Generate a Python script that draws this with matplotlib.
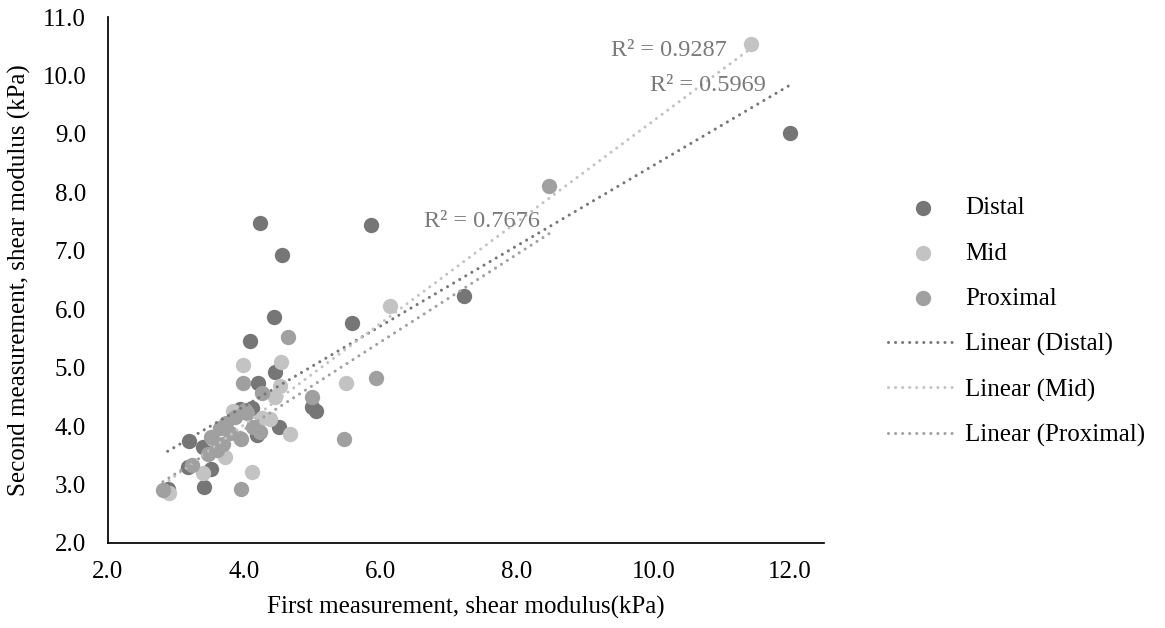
import matplotlib
matplotlib.use("Agg")
import matplotlib.pyplot as plt
import numpy as np

# ---- data ----
distal_x = [2.88, 3.18, 3.19, 3.40, 3.41, 3.52, 3.94, 4.09, 4.12, 4.19, 4.20,
            4.24, 4.44, 4.46, 4.51, 4.56, 5.00, 5.05, 5.58, 5.86, 7.22, 12.00]
distal_y = [2.93, 3.30, 3.75, 3.65, 2.95, 3.27, 4.30, 5.45, 4.31, 3.85, 4.74,
            7.47, 5.86, 4.93, 3.98, 6.93, 4.33, 4.25, 5.76, 7.44, 6.23, 9.01]

mid_x = [2.90, 3.40, 3.55, 3.65, 3.72, 3.84, 3.94, 3.98, 4.12, 4.26, 4.38,
         4.45, 4.52, 4.54, 4.68, 5.50, 6.14, 11.43]
mid_y = [2.86, 3.20, 3.78, 3.62, 3.47, 4.25, 3.79, 5.04, 3.22, 4.13, 4.12,
         4.49, 4.68, 5.09, 3.86, 4.74, 6.06, 10.54]

prox_x = [2.81, 3.23, 3.47, 3.52, 3.60, 3.64, 3.69, 3.74, 3.80, 3.86, 3.95,
          3.96, 3.98, 4.01, 4.04, 4.13, 4.23, 4.26, 4.65, 5.00, 5.47, 5.94, 8.47]
prox_y = [2.91, 3.33, 3.53, 3.82, 3.59, 3.96, 3.70, 4.05, 3.88, 4.16, 3.78,
          2.92, 4.74, 4.27, 4.22, 3.99, 3.90, 4.57, 5.53, 4.50, 3.78, 4.83, 8.10]

# linear trendlines (slope, intercept) and R^2 as printed on the chart
fit_slope = [0.687, 0.867, 0.750]
fit_intercept = [1.59, 0.555, 0.94]
r2_labels = ["R² = 0.5969", "R² = 0.9287", "R² = 0.7676"]

series_names = ["Distal", "Mid", "Proximal"]
colors = ["#767676", "#c3c3c3", "#a0a0a0"]

xticks = [2, 4, 6, 8, 10, 12]
yticks = [2, 3, 4, 5, 6, 7, 8, 9, 10, 11]

plt.rcParams["font.family"] = ["Liberation Serif", "DejaVu Serif"]

fig = plt.figure(figsize=(11.65, 6.28), dpi=100)
ax = fig.add_axes([0.0924, 0.1354, 0.6149, 0.8375])

xs_all = [distal_x, mid_x, prox_x]
ys_all = [distal_y, mid_y, prox_y]

for xs, ys, name, c in zip(xs_all, ys_all, series_names, colors):
    ax.scatter(xs, ys, s=122, color=c, linewidths=0, label=name, zorder=2)

dot = (0, (0.01, 2.3))
for xs, m, b, name, c in zip(xs_all, fit_slope, fit_intercept, series_names, colors):
    lx = np.array([min(xs), max(xs)])
    ax.plot(lx, m * lx + b, color=c, lw=2.2, linestyle=dot,
            dash_capstyle="round", label=f"Linear ({name})", zorder=3)

# R^2 labels near the end of each trendline
txt_kw = dict(fontsize=17.5, color="#7a7a7a", ha="right", va="center", zorder=4)
ax.text(11.65, 9.82, r2_labels[0], **txt_kw)
ax.text(11.07, 10.42, r2_labels[1], **txt_kw)
ax.text(8.33, 7.50, r2_labels[2], **txt_kw)

ax.set_xlim(2, 12.5)
ax.set_ylim(2, 11)
ax.set_xticks(xticks)
ax.set_yticks(yticks)
ax.set_xticklabels([f"{v:.1f}" for v in xticks])
ax.set_yticklabels([f"{v:.1f}" for v in yticks])
ax.tick_params(length=0, labelsize=18)
ax.tick_params(axis="y", pad=15.5)
ax.tick_params(axis="x", pad=13)
for side in ["top", "right"]:
    ax.spines[side].set_visible(False)
for side in ["left", "bottom"]:
    ax.spines[side].set_linewidth(1.25)
    ax.spines[side].set_color("black")

ax.set_xlabel("First measurement, shear modulus(kPa)", fontsize=18, labelpad=9)
ax.set_ylabel("Second measurement, shear modulus (kPa)", fontsize=18, labelpad=8)

ax.legend(loc="center left", bbox_to_anchor=(0.762, 0.487),
          bbox_transform=fig.transFigure, frameon=False, fontsize=18,
          handlelength=2.8, handletextpad=0.3, labelspacing=0.91,
          borderpad=0, borderaxespad=0, scatterpoints=1)

fig.savefig("out.png", dpi=100)
